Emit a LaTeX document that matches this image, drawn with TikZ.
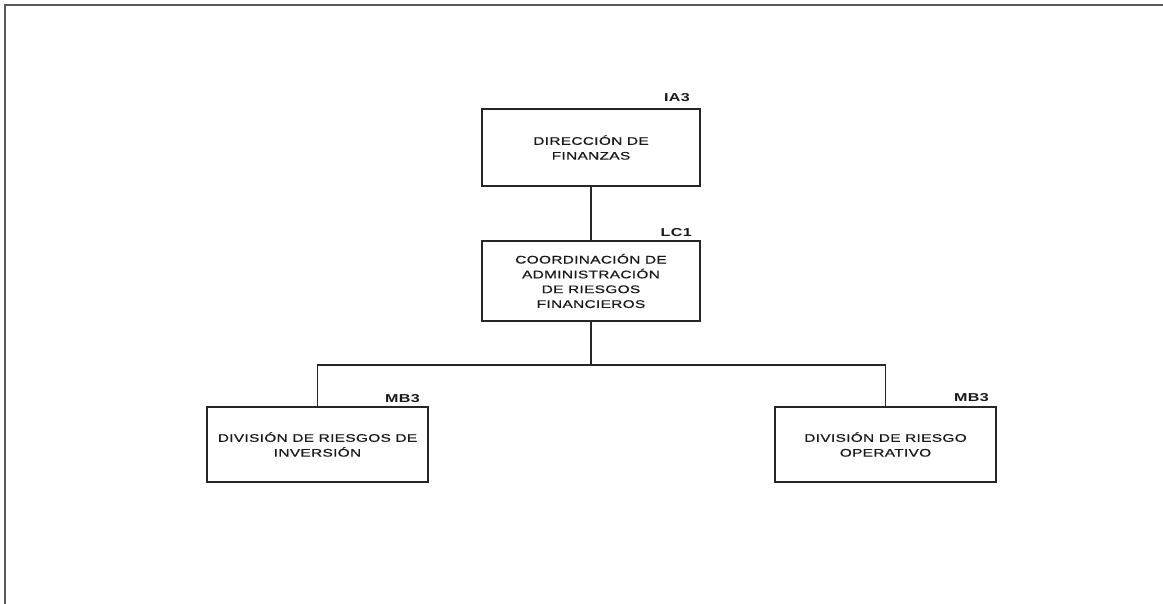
\documentclass[tikz,border=0pt]{standalone}
\usepackage{fontspec}
\newfontfamily\boxfont[FakeStretch=1.4,LetterSpace=3,FakeBold=0.6]{Liberation Sans}
\newfontfamily\labfont[FakeStretch=1.4,LetterSpace=3]{Liberation Sans Bold}
\begin{document}
\begin{tikzpicture}[x=1pt,y=-1pt,
  orgbox/.style={draw=black!85,line width=1.6pt,align=center,inner sep=0pt,
    font=\boxfont\fontsize{11}{14.8}\selectfont,text=black!90},
  lvl/.style={anchor=base east,inner sep=0pt,font=\labfont\fontsize{11.5}{13}\selectfont,text=black!90},
  conn/.style={draw=black!85,line width=1.5pt},
  frame/.style={draw=black!65,line width=2pt}]
\useasboundingbox (0,0) rectangle (1163,604);
\draw[frame] (1163,5) -- (5,5) -- (5,604);
\node[orgbox,minimum width=218pt,minimum height=77pt] (b1) at (591,147.5) {DIRECCIÓN DE\\FINANZAS};
\node[orgbox,minimum width=218pt,minimum height=80pt] (b2) at (591,281) {COORDINACIÓN DE\\ADMINISTRACIÓN\\DE RIESGOS\\FINANCIEROS};
\node[orgbox,minimum width=221pt,minimum height=75pt] (b3) at (317.5,444.5) {DIVISIÓN DE RIESGOS DE\\INVERSIÓN};
\node[orgbox,minimum width=221pt,minimum height=75pt] (b4) at (885.5,444.5) {DIVISIÓN DE RIESGO\\OPERATIVO};
\node[lvl] (l1) at (690,102) {IA3};
\node[lvl] (l2) at (692,237) {LC1};
\node[lvl] (l3) at (420,402) {MB3};
\node[lvl] (l4) at (989,401) {MB3};
\coordinate (J) at (591,365);
\draw[conn] (b1) -- (b2);
\draw[conn] (b2) -- (J);
\draw[conn] (b3.north) |- (J) -| (b4.north);
\end{tikzpicture}
\end{document}
